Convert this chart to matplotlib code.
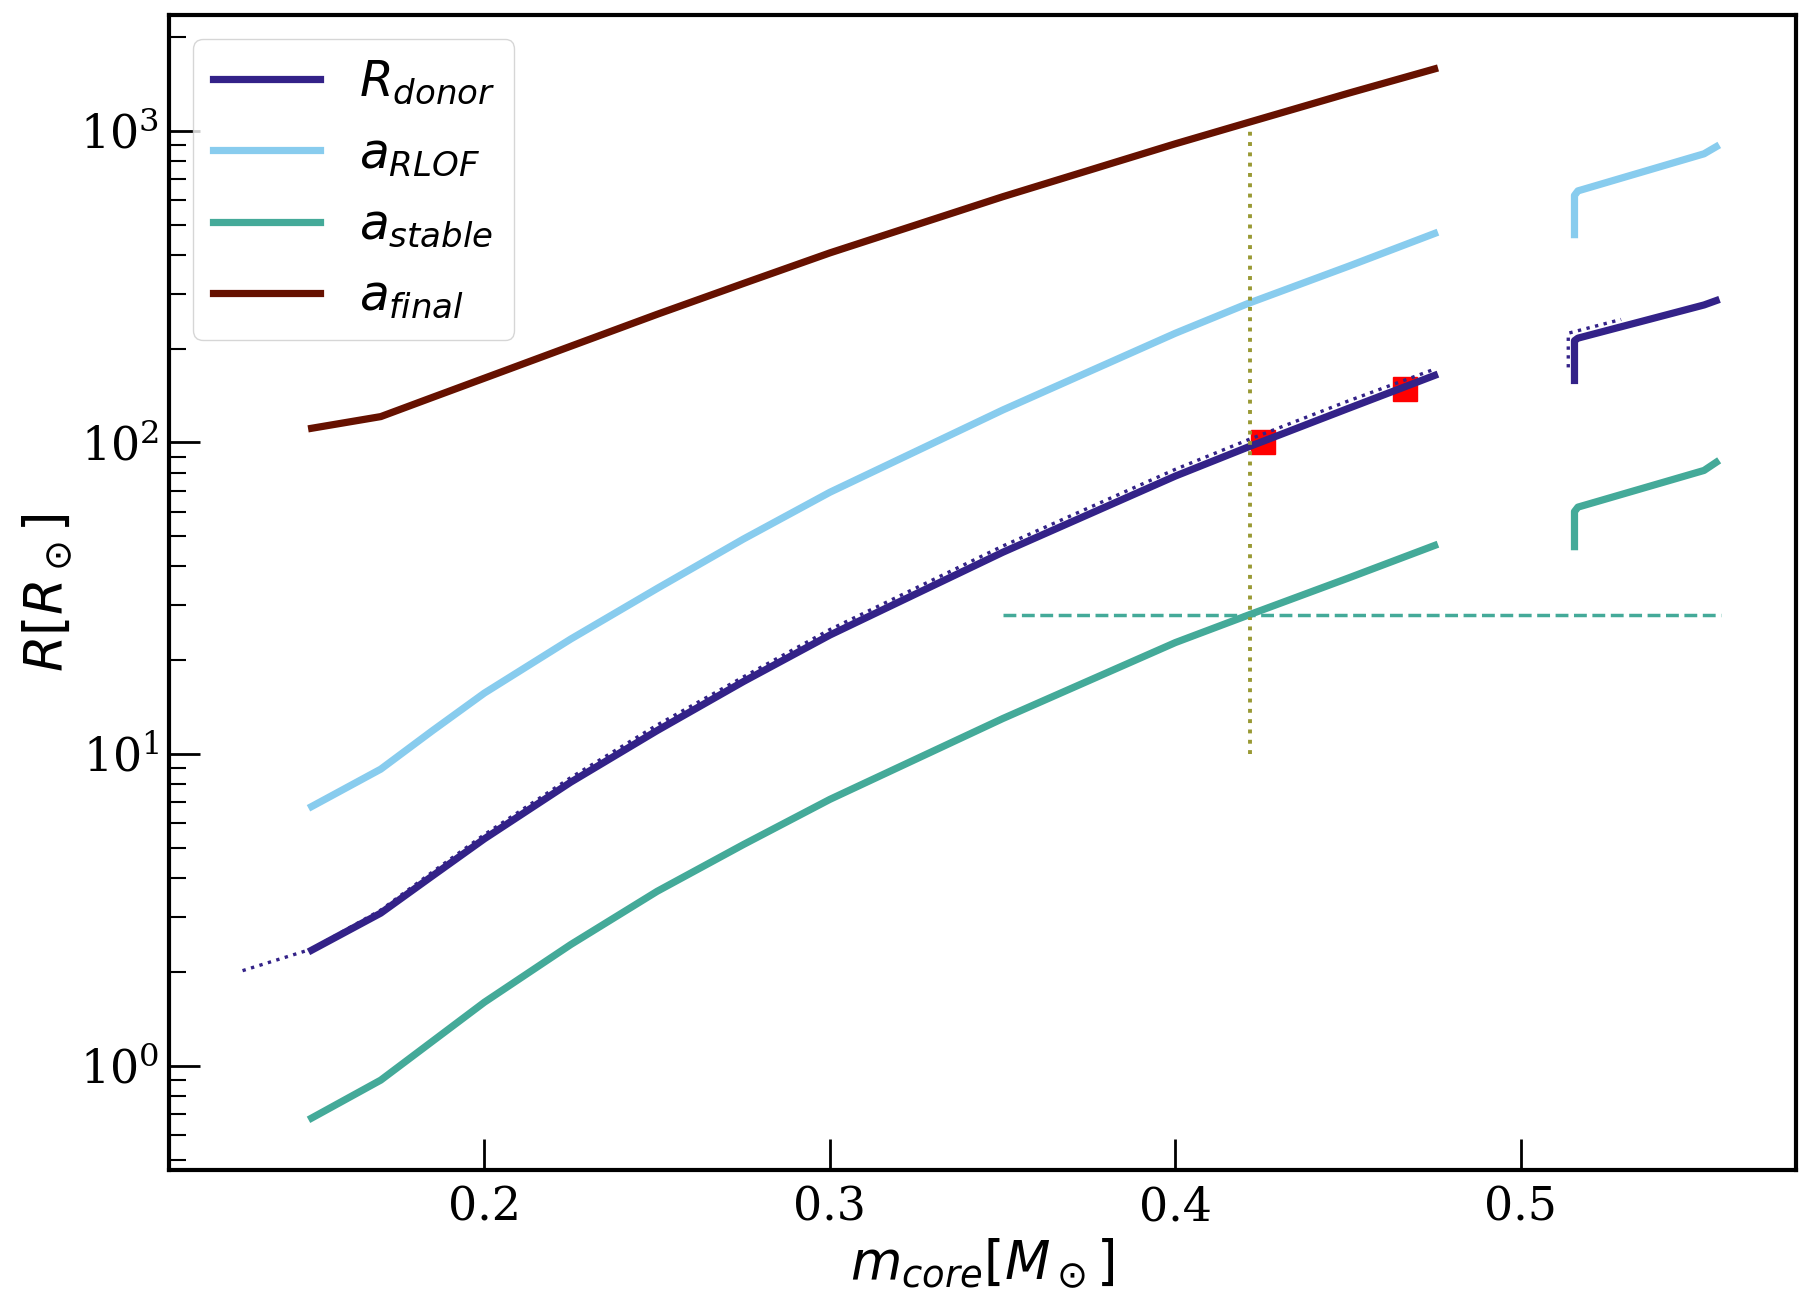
import numpy as np
import matplotlib
matplotlib.use('Agg')
from matplotlib import pyplot as plt

# main track, values
m_core = [0.15, 0.17, 0.185, 0.2, 0.225, 0.25, 0.275, 0.3, 0.35, 0.4, 0.421, 0.45, 0.475]
r_donor = [2.35, 3.09, 4.07, 5.35, 8.13, 11.9, 17.1, 24.1, 44.4, 78, 96.6, 128.5, 164]
a_rlof = [6.79, 8.95, 11.9, 15.7, 23.4, 34.0, 49.0, 69.2, 127, 224, 279, 367, 468]
a_stable = [0.68, 0.90, 1.20, 1.60, 2.45, 3.63, 5.13, 7.16, 13.0, 22.8, 27.9, 36.7, 46.7]
a_final = [111, 121, 139.5, 160.7, 203.5, 257.6, 323.6, 405.5, 613.8, 907.8, 1062, 1318, 1578]

# R(Mc) fit (dotted)
m_fit = [0.13, 0.15, 0.17, 0.185, 0.2, 0.225, 0.25, 0.275, 0.3, 0.35, 0.4, 0.421, 0.45, 0.475]
r_fit = [2.02, 2.37, 3.16, 4.19, 5.52, 8.41, 12.4, 17.7, 25.1, 46.5, 82, 101.9, 135.8, 171.8]

# second (He burning) track on the right
m_core_hb = [0.5155, 0.5155, 0.5165, 0.553, 0.5565]
r_donor_hb = [158, 212, 216, 276, 285]
a_rlof_hb = [464, 620, 641, 843, 888]
a_stable_hb = [46.3, 60, 62, 81.3, 86.3]
m_fit_hb = [0.5137, 0.5137, 0.529]
r_fit_hb = [174, 224, 248]

# reference markers
m_obs = [0.4254, 0.4664]
r_obs = [100.5, 148]
m_cut = 0.4216
a_cut = 27.9
m_cut_range = [0.35, 0.558]
r_cut_range = [10, 1000]

c_donor = '#332288'
c_rlof = '#88CCEE'
c_stable = '#44AA99'
c_final = '#661100'

plt.rcParams['font.family'] = 'serif'
plt.rcParams['font.serif'] = ['DejaVu Serif']
plt.rcParams['mathtext.fontset'] = 'dejavusans'

fig, ax = plt.subplots(figsize=(18.13, 13.05), dpi=100)
fig.subplots_adjust(left=0.0932, right=0.9906, bottom=0.1036, top=0.9885)

ax.plot(m_obs, r_obs, 's', color='red', markersize=17, zorder=1)

ax.plot(m_core, r_donor, color=c_donor, lw=5.2, label='$R_{donor}$')
ax.plot(m_core, a_rlof, color=c_rlof, lw=5.2, label='$a_{RLOF}$')
ax.plot(m_core, a_stable, color=c_stable, lw=5.2, label='$a_{stable}$')
ax.plot(m_core, a_final, color=c_final, lw=5.2, label='$a_{final}$')

ax.plot(m_core_hb, r_donor_hb, color=c_donor, lw=5.2)
ax.plot(m_core_hb, a_rlof_hb, color=c_rlof, lw=5.2)
ax.plot(m_core_hb, a_stable_hb, color=c_stable, lw=5.2)

ax.plot(m_fit, r_fit, ':', color=c_donor, lw=2.4)
ax.plot(m_fit_hb, r_fit_hb, ':', color=c_donor, lw=2.4)

ax.plot([m_cut, m_cut], r_cut_range, ':', color='#999933', lw=2.8)
ax.plot(m_cut_range, [a_cut, a_cut], '--', color=c_stable, lw=2.5)

ax.set_yscale('log')
ax.set_xlim(0.1087, 0.5796)
ax.set_ylim(0.464, 2350)
ax.set_xticks([0.2, 0.3, 0.4, 0.5])

ax.set_xlabel(r'$m_{core}[M_\odot]$', fontsize=38)
ax.set_ylabel(r'$R[R_\odot]$', fontsize=38)

ax.tick_params(which='both', direction='in', top=False, right=False)
ax.tick_params(which='major', length=22, width=2, labelsize=33)
ax.tick_params(which='minor', length=12, width=1.5)
ax.tick_params(axis='x', which='major', pad=11)
ax.tick_params(axis='y', which='major', pad=7)
for sp in ax.spines.values():
    sp.set_linewidth(3)

ax.legend(loc='upper left', fontsize=35, handlelength=2.2)

plt.savefig('out.png', dpi=100)
